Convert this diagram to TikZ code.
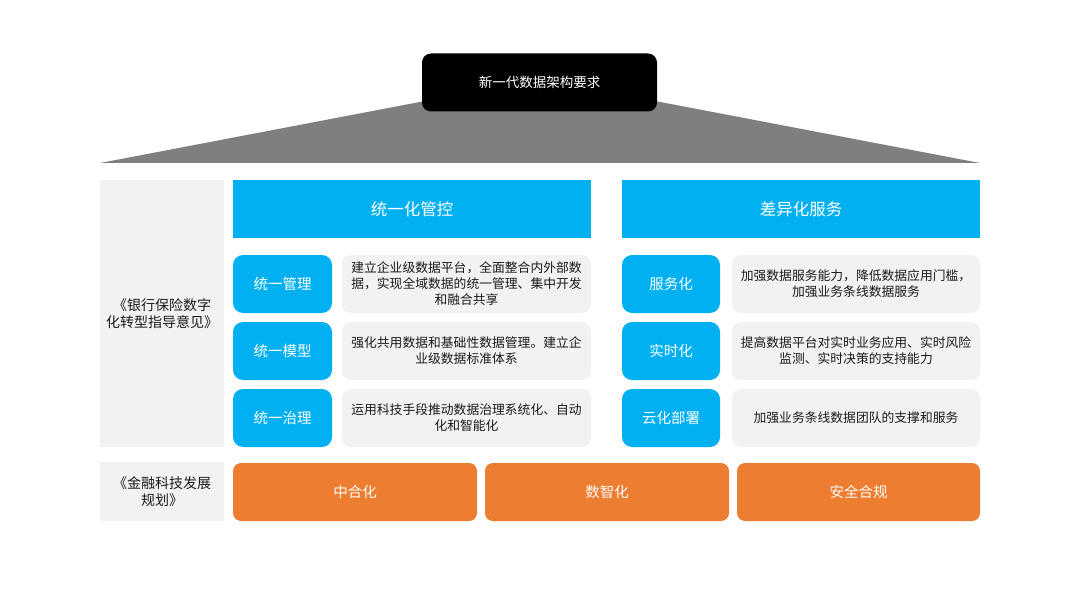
\documentclass[tikz,border=0pt]{standalone}
\usepackage{fontspec}
\setmainfont{Noto Sans CJK SC}
\definecolor{cblue}{HTML}{00B0F0}
\definecolor{corange}{HTML}{ED7D31}
\definecolor{cpale}{HTML}{F2F2F2}
\definecolor{croof}{HTML}{7F7F7F}
\definecolor{ctext}{HTML}{1A1A1A}
\begin{document}
\begin{tikzpicture}[x=1pt,y=-1pt,
  box/.style={inner sep=0pt,align=center,text width=#1-8pt,minimum width=#1},
  topbox/.style={box=235pt,minimum height=58pt,fill=black,rounded corners=9pt,text=white,font=\fontsize{13.5}{16}\selectfont},
  headbox/.style={box=358pt,minimum height=58pt,fill=cblue,text=white,font=\fontsize{16.5}{19}\selectfont},
  tagbox/.style={box=99pt,minimum height=58pt,fill=cblue,rounded corners=10pt,text=white,font=\fontsize{14.5}{17}\selectfont},
  descbox/.style={box=249pt,minimum height=58pt,fill=cpale,rounded corners=9pt,text=ctext,font=\fontsize{12.8}{16}\selectfont},
  sidebox/.style={box=124pt,fill=cpale,text=ctext,font=\fontsize{14}{17}\selectfont},
  orbox/.style={box=244pt,minimum height=58pt,fill=corange,rounded corners=8pt,text=white,font=\fontsize{14.5}{17}\selectfont}]
\useasboundingbox (0,0) rectangle (1080,607);
\fill[white] (0,0) rectangle (1080,607);
% roof
\coordinate (rl) at (100,163);
\coordinate (rtl) at (425,101);
\coordinate (rtr) at (655,101);
\coordinate (rr) at (980,163);
\fill[croof] (rl) -- (rtl) -- (rtr) -- (rr) -- cycle;
\node[topbox] (top) at (539.5,82.5) {新一代数据架构要求};
% left side labels
\node[sidebox,minimum height=267pt] (side1) at (162,313.5) {《银行保险数字\\化转型指导意见》};
\node[sidebox,minimum height=59pt] (side2) at (162,491.5) {《金融科技发展\\规划》};
% headers
\node[headbox] (h1) at (412,209) {统一化管控};
\node[headbox] (h2) at (801,209) {差异化服务};
% left rows
\node[tagbox] (t1) at (282.5,284) {统一管理};
\node[descbox] (d1) at (466.5,284) {建立企业级数据平台，全面整合内外部数\\据，实现全域数据的统一管理、集中开发\\和融合共享};
\node[tagbox] (t2) at (282.5,351) {统一模型};
\node[descbox] (d2) at (466.5,351) {强化共用数据和基础性数据管理。建立企\\业级数据标准体系};
\node[tagbox] (t3) at (282.5,418) {统一治理};
\node[descbox] (d3) at (466.5,418) {运用科技手段推动数据治理系统化、自动\\化和智能化};
% right rows
\node[tagbox,minimum width=98pt] (t4) at (671,284) {服务化};
\node[descbox,minimum width=248pt] (d4) at (856,284) {加强数据服务能力，降低数据应用门槛，\\加强业务条线数据服务};
\node[tagbox,minimum width=98pt] (t5) at (671,351) {实时化};
\node[descbox,minimum width=248pt] (d5) at (856,351) {提高数据平台对实时业务应用、实时风险\\监测、实时决策的支持能力};
\node[tagbox,minimum width=98pt] (t6) at (671,418) {云化部署};
\node[descbox,minimum width=248pt] (d6) at (856,418) {加强业务条线数据团队的支撑和服务};
% bottom
\node[orbox] (o1) at (355,492) {中合化};
\node[orbox] (o2) at (607,492) {数智化};
\node[orbox,minimum width=243pt] (o3) at (858.5,492) {安全合规};
\end{tikzpicture}
\end{document}
